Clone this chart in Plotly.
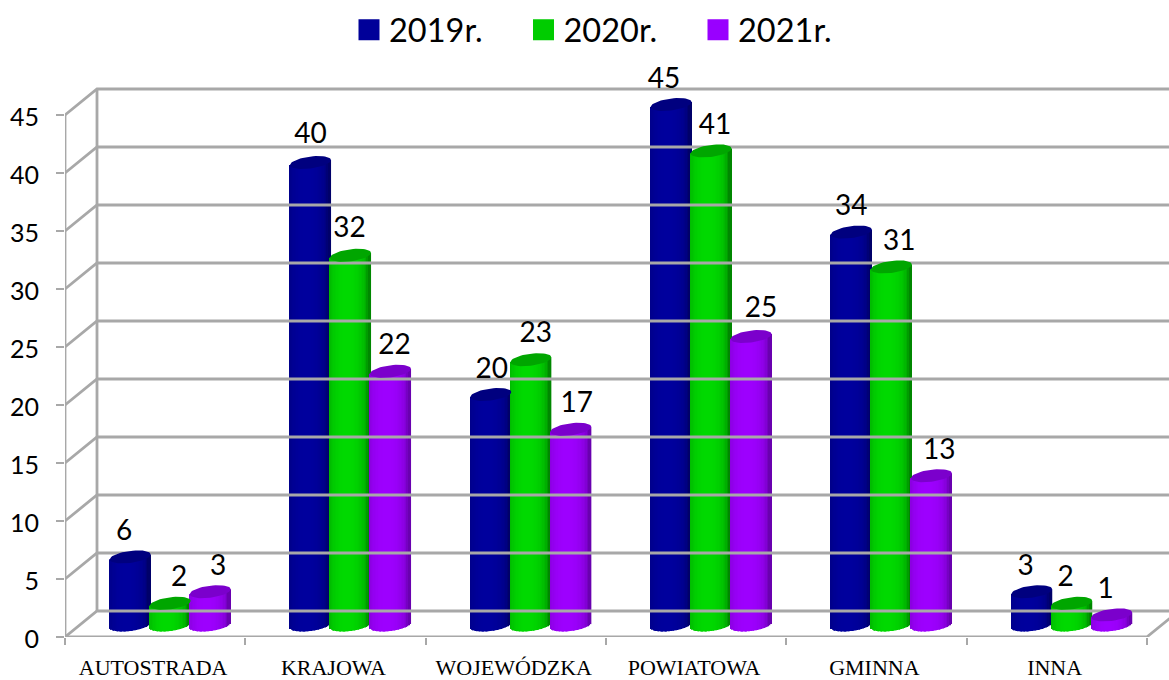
import numpy as np
import plotly.graph_objects as go

categories = ["AUTOSTRADA", "KRAJOWA", "WOJEWÓDZKA", "POWIATOWA", "GMINNA", "INNA"]
years = ["2019r.", "2020r.", "2021r."]
v2019 = [6, 40, 20, 45, 34, 3]
v2020 = [2, 32, 23, 41, 31, 2]
v2021 = [3, 22, 17, 25, 13, 1]
series = [v2019, v2020, v2021]
y_ticks = [0, 5, 10, 15, 20, 25, 30, 35, 40, 45]

# styles: (centre colour, edge colour, cap colour, legend colour)
styles = [((0, 0, 158), (0, 0, 105), "#00007f", "#000099"),
          ((0, 218, 0), (0, 135, 0), "#00a600", "#00cc00"),
          ((158, 0, 255), (105, 0, 175), "#7b00cc", "#9900ff")]
label_dx_px = [[-6, 0, 1, -7, 0, -6], [9, -1, 5, 4, 8, -6], [8, 4, 6, 10, 8, -6]]
label_dy_px = [[0, 3, 0, 0, 0, 0], [0, 1, 1, 0, 0, 0], [0, 0, 0, 3, 0, 0]]

# layout geometry
W, H = 1169, 680
ML, MB, MT = 65, 43, 60
PX_X, PX_Y = 180.3, 11.6
xmin = -0.5
xmax = xmin + (W - ML) / PX_X
ymax = (H - MB - MT) / PX_Y
dx, dy = 32 / PX_X, 26 / PX_Y
BAR_W = 41 / PX_X
BAR_STEP = 40 / PX_X
GROUP_SHIFT = 15 / PX_X
BASE_BOTTOM = 12 / PX_Y
BASE_TOP = 10.5 / PX_Y
EH, TILT = 6 / PX_Y, 2.5 / PX_Y
GRID = "#a8a8a8"
N = 30

fig = go.Figure()

# walls and floor
gx, gy = [], []
for v in y_ticks:
    gx += [xmin, xmin + dx, xmax + 0.1, None]
    gy += [v, v + dy, v + dy, None]
xend = len(categories) - 0.5
gx += [xmin, xmin, None, xmin + dx, xmin + dx, None, xmin, xend, xend + dx, None]
gy += [0, 45, None, dy, 45 + dy, None, 0, 0, dy, None]
fig.add_trace(go.Scatter(x=gx, y=gy, mode="lines", line=dict(color=GRID, width=2.8),
                         cliponaxis=False, showlegend=False, hoverinfo="skip"))

u = (np.arange(N) + 0.5) / N * 2 - 1
strip_w = BAR_W / N * 1.15
for s, vals in enumerate(series):
    center, edge, cap, _ = styles[s]
    xs, bases, heights, cols = [], [], [], []
    capx, capy = [], []
    for i, v in enumerate(vals):
        xc = i + GROUP_SHIFT + (s - 1) * BAR_STEP
        for ui in u:
            f = np.sqrt(max(0, 1 - (ui + 0.15) ** 2)) ** 0.8
            rgb = [int(edge[c] + (center[c] - edge[c]) * f) for c in range(3)]
            b = BASE_BOTTOM - EH * np.sqrt(1 - ui ** 2) + TILT * ui
            t = BASE_TOP + v + TILT * ui
            xs.append(xc + ui * BAR_W / 2)
            bases.append(b)
            heights.append(t - b)
            cols.append("rgb(%d,%d,%d)" % tuple(rgb))
        th = np.linspace(0, 2 * np.pi, 49)
        capx += list(xc + BAR_W / 2 * np.cos(th)) + [None]
        capy += list(BASE_TOP + v + TILT * np.cos(th) + EH * np.sin(th)) + [None]
    fig.add_trace(go.Bar(x=xs, y=heights, base=bases, width=strip_w,
                         marker=dict(color=cols, line=dict(width=0)),
                         showlegend=False, hoverinfo="skip"))
    fig.add_trace(go.Scatter(x=capx, y=capy, mode="lines", fill="toself", fillcolor=cap,
                             line=dict(width=0), showlegend=False, hoverinfo="skip"))

# value labels
for s, vals in enumerate(series):
    fig.add_trace(go.Scatter(
        x=[i + GROUP_SHIFT + (s - 1) * BAR_STEP + label_dx_px[s][i] / PX_X for i in range(len(vals))],
        y=[v + BASE_TOP + (10 + label_dy_px[s][i]) / PX_Y for i, v in enumerate(vals)],
        mode="text", text=[str(v) for v in vals], textposition="top center",
        textfont=dict(family="Lato", size=28, color="#000000"),
        cliponaxis=False, showlegend=False, hoverinfo="skip"))

# legend
for s, name in enumerate(years):
    col = styles[s][3]
    fig.add_trace(go.Scatter(x=[None], y=[None], mode="markers", name=name,
                             marker=dict(symbol="square", size=16, color=col,
                                         line=dict(color=col, width=5))))

fig.update_layout(
    width=W, height=H, margin=dict(l=ML, r=0, t=MT, b=MB, pad=0),
    paper_bgcolor="white", plot_bgcolor="white", barmode="overlay",
    legend=dict(orientation="h", x=(349 - ML) / (W - ML), xanchor="left",
                y=1 + 30 / (H - MB - MT), yanchor="middle",
                entrywidth=129.5, entrywidthmode="pixels", itemwidth=30,
                font=dict(family="Lato", size=32.5, color="#000000"),
                bgcolor="rgba(0,0,0,0)", itemclick=False, itemdoubleclick=False),
    xaxis=dict(range=[xmin, xmax], tickmode="array",
               tickvals=list(range(len(categories))), ticktext=categories,
               ticks="", showgrid=False, zeroline=False, showline=False,
               ticklabelstandoff=15, ticklabelshift=-2,
               tickfont=dict(family="Liberation Serif", size=22, color="#000000"),
               minor=dict(tickmode="array", tickvals=[i - 0.5 for i in range(len(categories) + 1)],
                          ticks="outside", ticklen=7, tickwidth=2, tickcolor=GRID, showgrid=False)),
    yaxis=dict(range=[0, ymax], tickmode="array", tickvals=y_ticks, ticks="outside",
               ticklen=8, tickwidth=2, tickcolor=GRID, showgrid=False, zeroline=False,
               showline=False, ticklabelstandoff=12, ticklabelshift=2,
               tickfont=dict(family="Lato", size=25, color="#000000")),
    showlegend=True,
)
fig.write_html("out.html", post_script='document.body.style.margin="0";',
               config={"displayModeBar": False})
